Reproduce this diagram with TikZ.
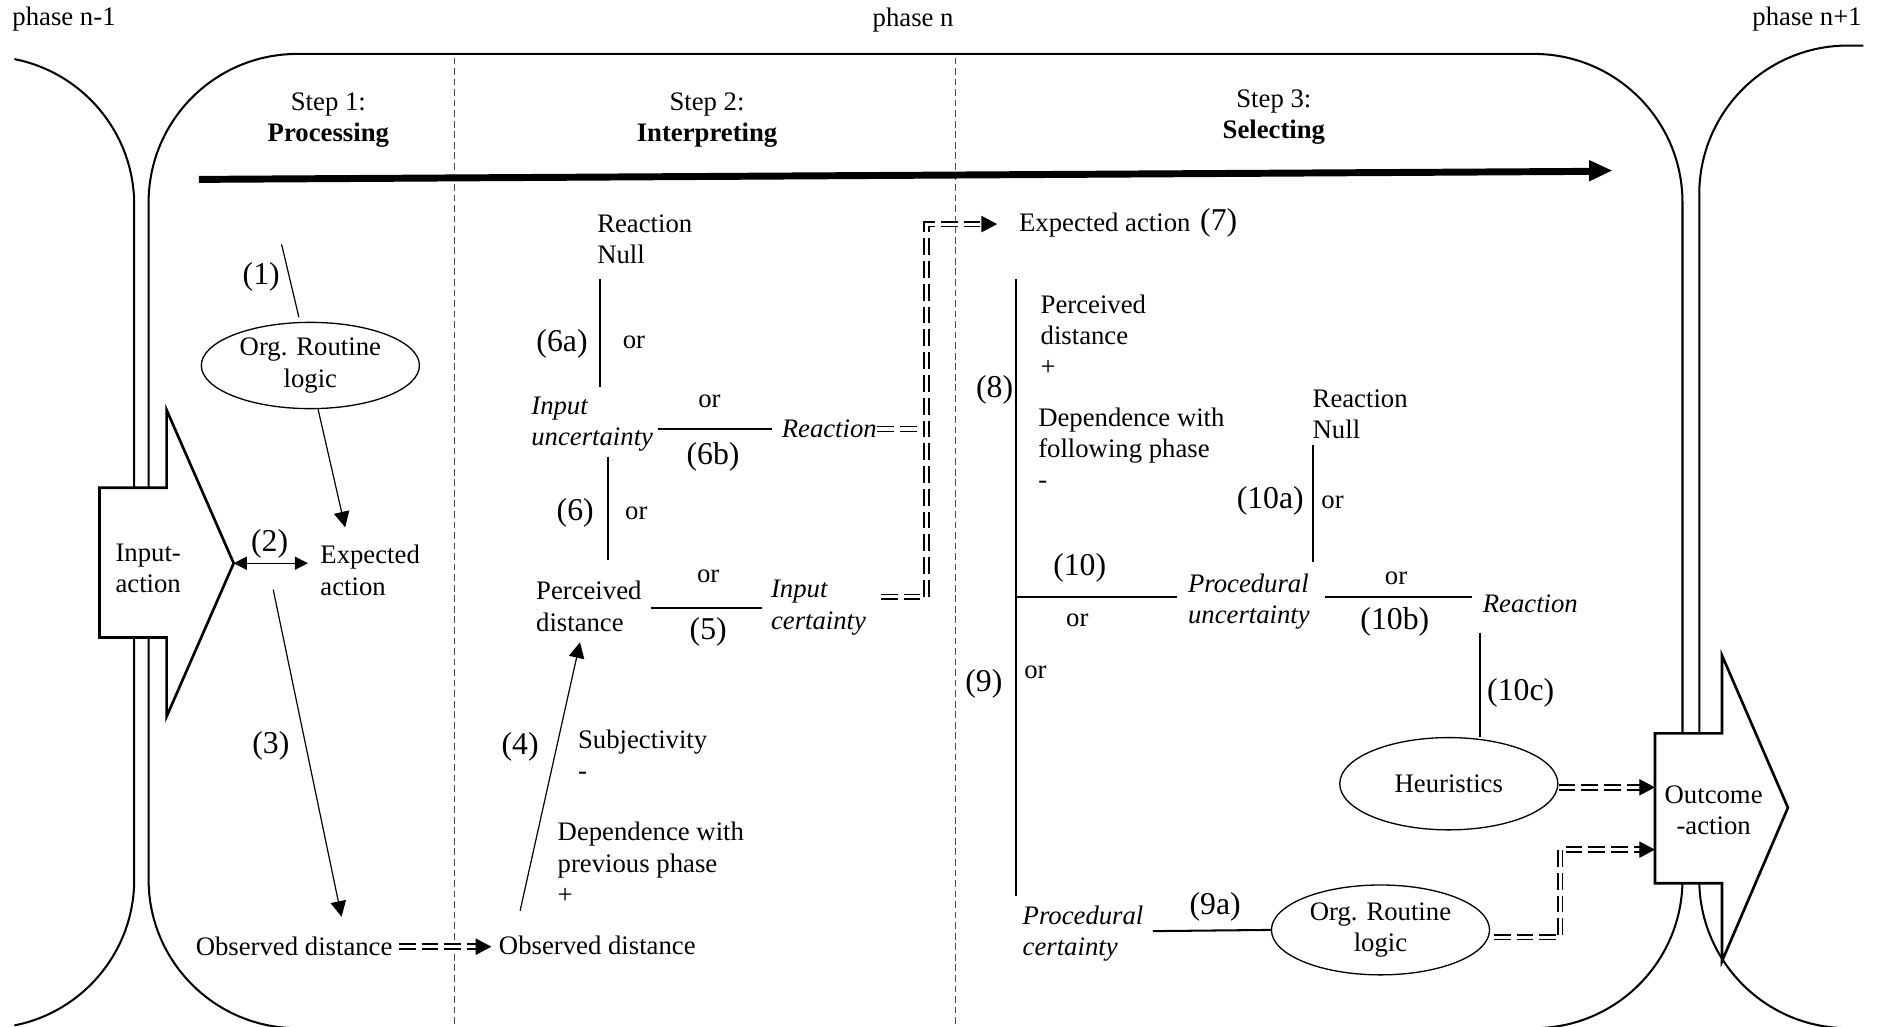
\documentclass[tikz,border=0pt]{standalone}
\usepackage{fontspec}
\setmainfont{Liberation Serif}
\usetikzlibrary{arrows.meta,calc,shapes.geometric}
\begin{document}
\begin{tikzpicture}[x=0.5pt,y=-0.5pt,
  txt/.style={inner sep=0pt, font=\fontsize{11.15}{13}\selectfont, align=left},
  ctxt/.style={txt, align=center},
  lab/.style={inner sep=0pt, font=\fontsize{13.25}{15}\selectfont},
  phase/.style={line width=0.85pt, rounded corners=62pt},
  sepline/.style={draw=black!70, line width=0.45pt, dash pattern=on 2.8pt off 1.6pt},
  block/.style={draw, fill=white, line width=1.1pt, line join=miter},
  ell/.style={ellipse, draw, line width=0.55pt, inner sep=0pt, align=center, font=\fontsize{11.15}{13}\selectfont},
  orl/.style={line width=0.85pt},
  thinl/.style={line width=0.5pt},
  tarrow/.style={line width=0.5pt, -{Triangle[length=6.5pt,width=6.5pt]}},
  darrow/.style={line width=0.5pt, {Triangle[length=5.5pt,width=5.5pt]}-{Triangle[length=5.5pt,width=5.5pt]}},
  dbl/.style={double, double distance=1.3pt, line width=0.7pt, dash pattern=on 7pt off 2.5pt},
  dtip/.style={line width=0.5pt, -{Triangle[length=6.5pt,width=6.8pt]}},
]
\useasboundingbox (0,0) rectangle (1568,857);

% phase outlines
\begin{scope}
\clip (12,0) rectangle (1568,857);
\draw[phase] (-300,47) -- (112,47) -- (112,858) -- (-300,858);
\end{scope}
\begin{scope}
\clip (0,0) rectangle (1568,857);
\draw[phase] (700,858) -- (124,858) -- (124,45) -- (1404,45) -- (1404,858) -- cycle;
\end{scope}
\begin{scope}
\clip (0,0) rectangle (1555,857);
\draw[phase] (1900,38) -- (1418,38) -- (1418,858) -- (1900,858);
\end{scope}

% step separators
\draw[sepline] (379,48) -- (379,857);
\draw[sepline] (797,48) -- (797,857);

% thick process arrow
\draw[line width=2.9pt] (166,149.7) -- (1328,143);
\fill (1326,133.5) -- (1345,142.3) -- (1326,151.5) -- cycle;

% block arrows
\draw[block] (83,407) -- (139,407) -- (139,342) -- (195,470) -- (139,598) -- (139,532) -- (83,532) -- cycle;
\draw[block] (1381,612) -- (1437,612) -- (1437,547) -- (1492,674) -- (1437,802) -- (1437,737) -- (1381,737) -- cycle;

% headers
\node[txt, anchor=west] (pn1) at (10,16) {phase n-1};
\node[txt] (pn) at (762,17) {phase n};
\node[txt, anchor=east] (pnp1) at (1554,16) {phase n+1};
\node[ctxt] (st1) at (274,100) {Step 1:\\\textbf{Processing}};
\node[ctxt] (st2) at (590,100) {Step 2:\\\textbf{Interpreting}};
\node[ctxt] (st3) at (1063,98) {Step 3:\\\textbf{Selecting}};

% step 1
\node[lab] (l1) at (218,231) {(1)};
\node[ell, minimum width=91pt, minimum height=36pt] (org1) at (259,305) {Org. Routine\\logic};
\node[txt, anchor=west] (exp1) at (267,476) {Expected\\action};
\node[txt, anchor=west] (inp) at (96,474) {Input-\\action};
\node[lab] (l2) at (225,454) {(2)};
\node[lab] (l3) at (226,622) {(3)};
\node[txt, anchor=west] (od1) at (163,790) {Observed distance};
\node[txt, anchor=west] (od2) at (416,789) {Observed distance};

% step 2
\node[txt, anchor=west] (rn1) at (498,200) {Reaction\\Null};
\node[lab] (l6a) at (469,287) {(6a)};
\node[txt] (or6a) at (529,286) {or};
\node[txt, anchor=west] (iu) at (443,354) {\textit{Input}\\\textit{uncertainty}};
\node[txt] (or6b) at (592,335) {or};
\node[lab] (l6b) at (595,381) {(6b)};
\node[txt, anchor=west] (re1) at (652,358) {\textit{Reaction}};
\node[lab] (l6) at (480,428) {(6)};
\node[txt] (or6) at (531,428) {or};
\node[txt, anchor=west] (pd1) at (447,506) {Perceived\\distance};
\node[txt] (or5) at (591,481) {or};
\node[lab] (l5) at (591,527) {(5)};
\node[txt, anchor=west] (ic) at (643,507) {\textit{Input}\\\textit{certainty}};
\node[lab] (l4) at (434,623) {(4)};
\node[txt, anchor=west] (subj) at (482,630) {Subjectivity\\-};
\node[txt, anchor=west] (dep1) at (465,720) {Dependence with\\previous phase\\+};

% step 3
\node[txt, anchor=west] (ea) at (850,188) {Expected action};
\node[lab] (l7) at (1017,186) {(7)};
\node[lab] (l8) at (830,325) {(8)};
\node[lab] (l9) at (821,571) {(9)};
\node[txt] (or9) at (864,561) {or};
\node[txt, anchor=west] (pd2) at (868,280) {Perceived\\distance\\+};
\node[txt, anchor=west] (dep2) at (866,374) {Dependence with\\following phase\\-};
\node[lab] (l10) at (901,474) {(10)};
\node[txt] (or10) at (899,518) {or};
\node[txt, anchor=west] (pu) at (991,502) {\textit{Procedural}\\\textit{uncertainty}};
\node[txt, anchor=west] (rn2) at (1095,346) {Reaction\\Null};
\node[lab] (l10a) at (1060,418) {(10a)};
\node[txt] (or10a) at (1112,419) {or};
\node[txt] (or10b) at (1165,483) {or};
\node[lab] (l10b) at (1164,519) {(10b)};
\node[txt, anchor=west] (re2) at (1237,504) {\textit{Reaction}};
\node[lab] (l10c) at (1269,578) {(10c)};
\node[ell, minimum width=91pt, minimum height=38.5pt] (heur) at (1209,654) {Heuristics};
\node[txt, anchor=west] (pc) at (853,779) {\textit{Procedural}\\\textit{certainty}};
\node[lab] (l9a) at (1014,757) {(9a)};
\node[ell, minimum width=91pt, minimum height=37.5pt] (org2) at (1152,776) {Org. Routine\\logic};
\node[ctxt] (outc) at (1430,676) {Outcome\\-action};

% coordinates for free ends
\coordinate (c1a) at (235,204);
\coordinate (a1e) at (288,440);
\coordinate (intip) at (195,470);
\coordinate (a2e) at (257,470);
\coordinate (a3s) at (228,492);
\coordinate (a3e) at (285,765);
\coordinate (t1) at (410,790);
\coordinate (a4s) at (434,760);
\coordinate (a4e) at (484,536);
\coordinate (o6a1) at (501,233); \coordinate (o6a2) at (501,323);
\coordinate (o6b1) at (549,358); \coordinate (o6b2) at (644,358);
\coordinate (o61) at (507,381); \coordinate (o62) at (507,467);
\coordinate (o51) at (543,507); \coordinate (o52) at (636,507);
\coordinate (dc1) at (773,498);
\coordinate (dc2) at (773,187);
\coordinate (t3) at (832,187);
\coordinate (o81) at (848,233); \coordinate (o82) at (848,748);
\coordinate (o101) at (848,498); \coordinate (o102) at (982,498);
\coordinate (o10a1) at (1096,371); \coordinate (o10a2) at (1096,469);
\coordinate (o10b1) at (1106,498); \coordinate (o10b2) at (1228,498);
\coordinate (c10c) at (1235,528);
\coordinate (c9a) at (962,777);
\coordinate (t4) at (1381,657);
\coordinate (d5c) at (1302,782);
\coordinate (t5) at (1381,709);

% step 1 connectors
\draw[thinl, shorten >=2pt] (c1a) -- (org1);
\draw[tarrow] (org1.-80) -- (a1e);
\draw[darrow] (intip) -- (a2e);
\draw[tarrow] (a3s) -- (a3e);
\draw[dbl] ($(od1.east)+(5,0)$) -- ($(t1)+(-10,0)$);
\draw[dtip] ($(t1)+(-1,0)$) -- (t1);

% step 2 connectors
\draw[tarrow] (a4s) -- (a4e);
\draw[orl] (o6a1) -- (o6a2);
\draw[orl] (o6b1) -- (o6b2);
\draw[orl] (o61) -- (o62);
\draw[orl] (o51) -- (o52);
\draw[dbl] (re1.east) -- (re1.east -| dc1);
\draw[dbl] ($(ic.east |- dc1)+(12,0)$) -- (dc1) -- (dc2) -- ($(t3)+(-10,0)$);
\draw[dtip] ($(t3)+(-1,0)$) -- (t3);

% step 3 connectors
\draw[orl] (o81) -- (o82);
\draw[orl] (o101) -- (o102);
\draw[orl] (o10a1) -- (o10a2);
\draw[orl] (o10b1) -- (o10b2);
\draw[orl] (c10c) -- (c10c |- heur.north);
\draw[orl] (c9a) -- (org2.west);
\draw[dbl] (heur.east |- t4) -- ($(t4)+(-10,0)$);
\draw[dtip] ($(t4)+(-1,0)$) -- (t4);
\draw[dbl] ($(org2.east |- d5c)+(3,0)$) -- (d5c) -- (d5c |- t5) -- ($(t5)+(-10,0)$);
\draw[dtip] ($(t5)+(-1,0)$) -- (t5);
\end{tikzpicture}
\end{document}
